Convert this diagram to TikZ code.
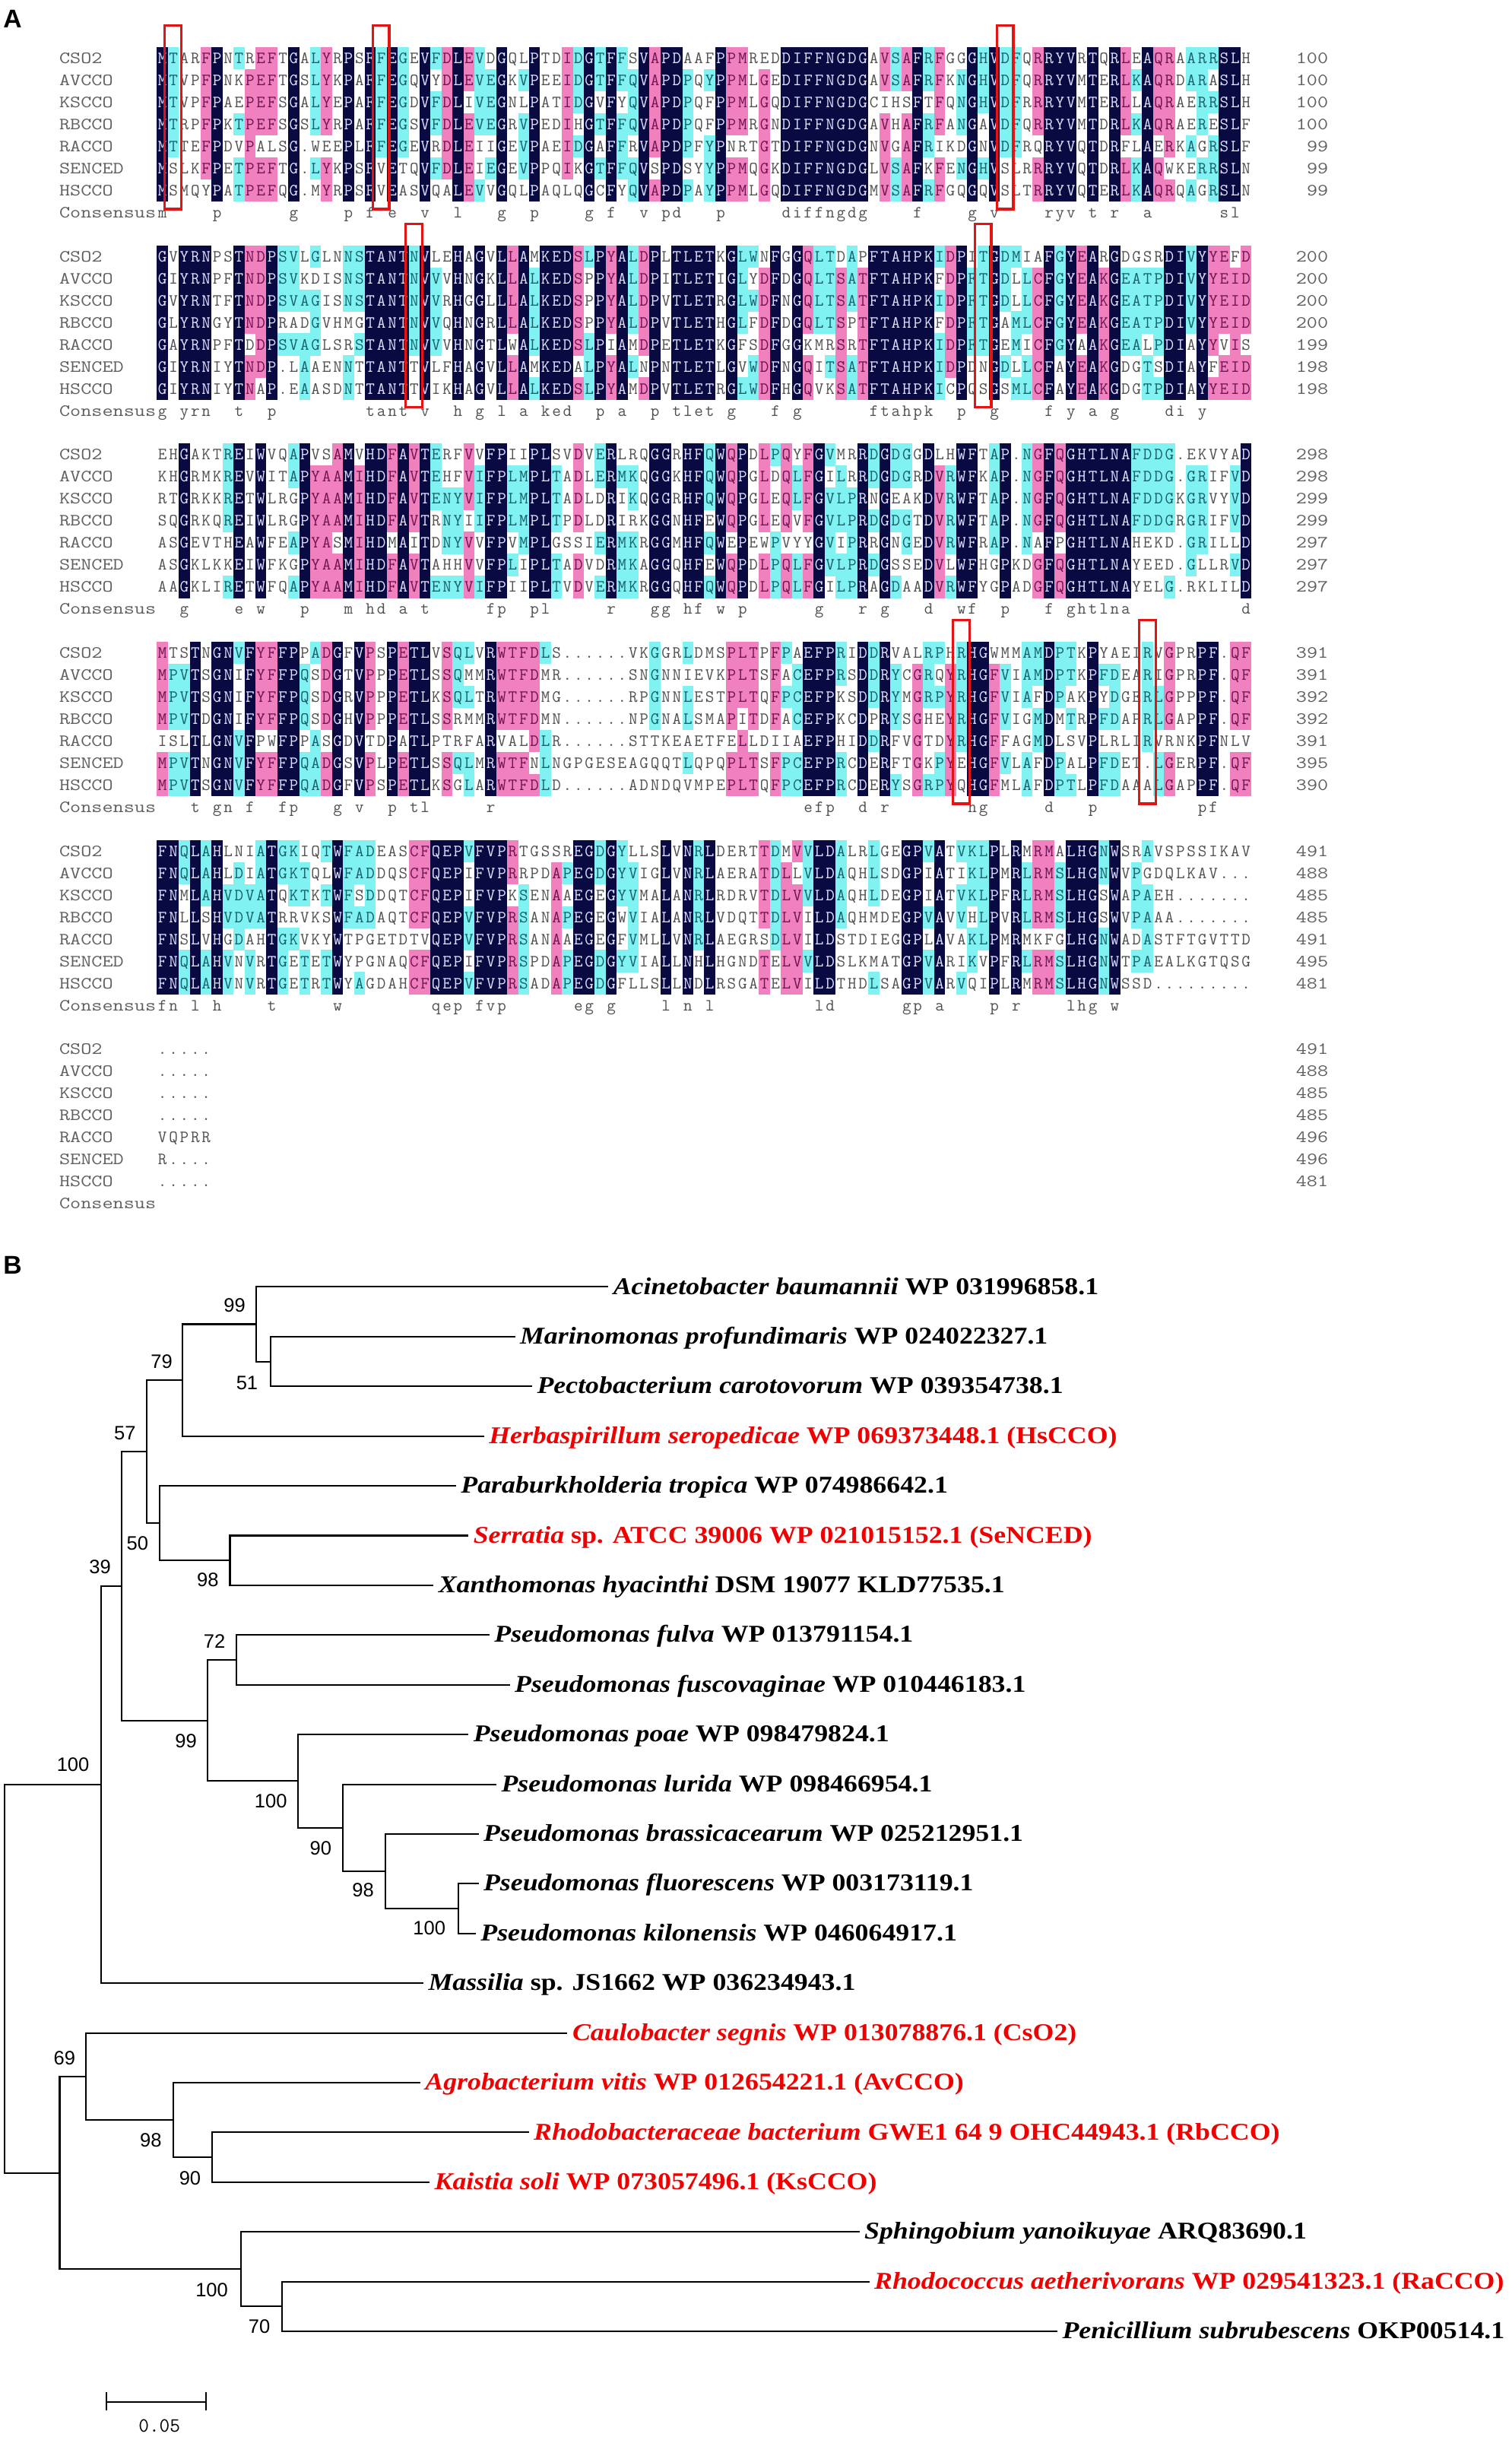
\documentclass[tikz,border=0pt]{standalone}
\usepackage{fontspec}
\setmainfont{Liberation Serif}
\newfontfamily\arialf{Liberation Sans}
\usepackage{graphicx}
\definecolor{navyc}{RGB}{10,10,66}
\definecolor{pinkc}{RGB}{240,128,190}
\definecolor{cyanc}{RGB}{128,242,242}
\definecolor{txw}{RGB}{80,80,80}
\definecolor{txn}{RGB}{225,225,255}
\definecolor{txp}{RGB}{110,20,80}
\definecolor{txc}{RGB}{25,95,105}
\definecolor{labg}{RGB}{95,95,95}
\definecolor{boxred}{RGB}{228,20,20}
\definecolor{tred}{RGB}{240,0,0}
\tikzset{
  res/.style={inner sep=0pt, text height=6.8pt, text depth=0pt, font=\ttfamily\fontsize{11}{12}\selectfont},
  rowst/.style={inner sep=0pt, anchor=base west, font=\ttfamily\fontsize{11}{12}\selectfont},
  lab/.style={res, anchor=west, text=labg},
  num/.style={res, anchor=east, text=labg},
  rbox/.style={draw=boxred, line width=1.6pt},
  br/.style={line width=1pt, line cap=rect},
  leaflab/.style={inner sep=0pt, anchor=base west, font=\fontsize{15.5}{17}\selectfont\bfseries},
  bs/.style={inner sep=0pt, font=\arialf\fontsize{12.5}{14}\selectfont},
  plab/.style={inner sep=0pt, anchor=base west, font=\arialf\bfseries\fontsize{16.5}{18}\selectfont}
}
\newlength\cw \setlength\cw{7.045pt}
\newcommand\alnc[2]{\ifcase#1\relax
  \makebox[\cw][c]{\color{txw}#2}%
  \or\rlap{\color{navyc}\rule[-3.8pt]{\cw}{14.4pt}}\makebox[\cw][c]{\color{txn}#2}%
  \or\rlap{\color{pinkc}\rule[-3.8pt]{\cw}{14.4pt}}\makebox[\cw][c]{\color{txp}#2}%
  \or\rlap{\color{cyanc}\rule[-3.8pt]{\cw}{14.4pt}}\makebox[\cw][c]{\color{txc}#2}%
  \fi}
\newcommand\alne{\hbox to \cw{}}
\newcommand\alnrow[2]{\node[rowst] (R#1) at (100.8,{37.5+#1*14.17+3.4}) {#2};}
\ExplSyntaxOn
\int_new:N \l__aln_cnt_int
\int_new:N \l__aln_lvl_int
\int_new:N \l__aln_len_int
\tl_new:N \l__aln_ch_tl
\tl_new:N \l__aln_cons_tl
\int_step_inline:nn {7}
  {
    \str_new:c { l__aln_row_#1_str }
    \tl_new:c { l__aln_c_#1_tl }
    \tl_new:c { l__aln_out_#1_tl }
  }
\cs_new_protected:Npn \alnblock #1#2#3#4#5#6#7#8
  {
    \str_set:cn { l__aln_row_1_str } {#2}
    \str_set:cn { l__aln_row_2_str } {#3}
    \str_set:cn { l__aln_row_3_str } {#4}
    \str_set:cn { l__aln_row_4_str } {#5}
    \str_set:cn { l__aln_row_5_str } {#6}
    \str_set:cn { l__aln_row_6_str } {#7}
    \str_set:cn { l__aln_row_7_str } {#8}
    \int_step_inline:nn {7} { \tl_clear:c { l__aln_out_##1_tl } }
    \tl_clear:N \l__aln_cons_tl
    \int_set:Nn \l__aln_len_int { \str_count:c { l__aln_row_1_str } }
    \int_step_variable:nnNn { 1 } { \l__aln_len_int } \l__aln_col_tl
      {
        \int_step_variable:nnNn { 1 } { 7 } \l__aln_r_tl
          {
            \tl_set:cx { l__aln_c_ \l__aln_r_tl _tl }
              { \str_item:cn { l__aln_row_ \l__aln_r_tl _str } { \l__aln_col_tl } }
          }
        \int_step_variable:nnNn { 1 } { 7 } \l__aln_r_tl
          {
            \tl_set:Nx \l__aln_ch_tl { \tl_use:c { l__aln_c_ \l__aln_r_tl _tl } }
            \int_zero:N \l__aln_cnt_int
            \int_step_variable:nnNn { 1 } { 7 } \l__aln_s_tl
              {
                \str_if_eq:eeT { \l__aln_ch_tl } { \tl_use:c { l__aln_c_ \l__aln_s_tl _tl } }
                  { \int_incr:N \l__aln_cnt_int }
              }
            \int_set:Nn \l__aln_lvl_int
              {
                \int_compare:nNnTF { \l__aln_cnt_int } = { 7 } { 1 }
                  {
                    \int_compare:nNnTF { \l__aln_cnt_int } = { 6 } { 2 }
                      { \int_compare:nNnTF { \l__aln_cnt_int } > { 3 } { 3 } { 0 } }
                  }
              }
            \str_if_eq:eeT { \l__aln_ch_tl } { . } { \int_zero:N \l__aln_lvl_int }
            \tl_if_empty:NF \l__aln_ch_tl
              {
                \tl_put_right:cx { l__aln_out_ \l__aln_r_tl _tl }
                  { \exp_not:N \alnc { \int_use:N \l__aln_lvl_int } { \l__aln_ch_tl } }
                \int_compare:nNnT { \l__aln_r_tl } = { 1 }
                  {
                    \int_compare:nNnTF { \l__aln_lvl_int } = { 1 }
                      {
                        \tl_put_right:Nx \l__aln_cons_tl
                          { \exp_not:N \alnc { 0 } { \str_lowercase:f { \l__aln_ch_tl } } }
                      }
                      { \tl_put_right:Nn \l__aln_cons_tl { \alne } }
                  }
              }
          }
      }
    \int_step_variable:nnNn { 1 } { 7 } \l__aln_r_tl
      {
        \tl_set:Nx \l_tmpa_tl
          {
            \exp_not:N \alnrow { \int_eval:n { 9 * (#1) + \l__aln_r_tl - 1 } }
              { \exp_not:v { l__aln_out_ \l__aln_r_tl _tl } }
          }
        \tl_use:N \l_tmpa_tl
      }
    \tl_set:Nx \l_tmpa_tl
      { \exp_not:N \alnrow { \int_eval:n { 9 * (#1) + 7 } } { \exp_not:V \l__aln_cons_tl } }
    \tl_use:N \l_tmpa_tl
  }
\ExplSyntaxOff
\newcommand\alnlabels[2]{%
  \foreach \nm [count=\i from 0] in {CSO2,AVCCO,KSCCO,RBCCO,RACCO,SENCED,HSCCO,Consensus}
    {\node[lab] (L#1-\i) at (38,{37.5+(9*#1+\i)*14.17}) {\scalebox{1.22}[1]{\nm}};}
  \foreach \v [count=\i from 0] in {#2}
    {\node[num] (N#1-\i) at (855,{37.5+(9*#1+\i)*14.17}) {\scalebox{1.22}[1]{\v}};}}
\newcommand\redbox[2]{%
  \draw[rbox] ({100.8+(#2-1)*7.045-1.8},{37.5+9*#1*14.17-21}) rectangle ({100.8+#2*7.045+1.8},{37.5+(9*#1+6)*14.17+12});}
\newcommand\leaf[4]{\node[leaflab,text=#3] (#1) at ([shift={(3.5,4.7)}]#2) {\scalebox{1.13}[1]{#4}};}
\begin{document}
\begin{tikzpicture}[x=1pt,y=-1pt]
\useasboundingbox (0,0) rectangle (973,1568);
\fill[white] (0,0) rectangle (973,1568);
\node[plab] (pA) at (2,18) {A};
\node[plab] (pB) at (2,819.5) {B};
% ---------------- alignment ----------------
\alnblock{0}
{MTARFPNTREFTGALYRPSFFEGEVFDLEVDGQLPTDIDGTFFSVAPDAAFPPMREDDIFFNGDGAVSAFRFGGGHVDFQRRYVRTQRLEAQRAARRSLH}
{MTVPFPNKPEFTGSLYKPAFFEGQVYDLEVEGKVPEEIDGTFFQVAPDPQYPPMLGEDIFFNGDGAVSAFRFKNGHVDFQRRYVMTERLKAQRDARASLH}
{MTVPFPAEPEFSGALYEPAFFEGDVFDLIVEGNLPATIDGVFYQVAPDPQFPPMLGQDIFFNGDGCIHSFTFQNGHVDFRRRYVMTERLLAQRAERRSLH}
{MTRPFPKTPEFSGSLYRPAFFEGSVFDLEVEGRVPEDIHGTFFQVAPDPQFPPMRGNDIFFNGDGAVHAFRFANGAVDFQRRYVMTDRLKAQRAERESLF}
{MTTEFPDVPALSG.WEEPLFFEGEVRDLEIIGEVPAEIDGAFFRVAPDPFYPNRTGTDIFFNGDGNVGAFRIKDGNVDFRQRYVQTDRFLAERKAGRSLF}
{MSLKFPETPEFTG.LYKPSFVETQVFDLEIEGEVPPQIKGTFFQVSPDSYYPPMQGKDIFFNGDGLVSAFKFENGHVSLRRRYVQTDRLKAQWKERRSLN}
{MSMQYPATPEFQG.MYRPSFVEASVQALEVVGQLPAQLQGCFYQVAPDPAYPPMLGQDIFFNGDGMVSAFRFGQGQVSLTRRYVQTERLKAQRQAGRSLN}
\alnblock{1}
{GVYRNPSTNDPSVLGLNNSTANTNVLEHAGVLLAMKEDSLPYALDPLTLETKGLWNFGGQLTDAPFTAHPKIDPITGDMIAFGYEARGDGSRDIVYYEFD}
{GIYRNPFTNDPSVKDISNSTANTNVVVHNGKLLALKEDSPPYALDPITLETIGLYDFDGQLTSATFTAHPKFDPFTGDLLCFGYEAKGEATPDIVYYEID}
{GVYRNTFTNDPSVAGISNSTANTNVVRHGGLLLALKEDSPPYALDPVTLETRGLWDFNGQLTSATFTAHPKIDPFTGDLLCFGYEAKGEATPDIVYYEID}
{GLYRNGYTNDPRADGVHMGTANTNVVQHNGRLLALKEDSPPYALDPVTLETHGLFDFDGQLTSPTFTAHPKFDPFTGAMLCFGYEAKGEATPDIVYYEID}
{GAYRNPFTDDPSVAGLSRSTANTNVVVHNGTLWALKEDSLPIAMDPETLETKGFSDFGGKMRSRTFTAHPKIDPFTGEMICFGYAAKGEALPDIAYYVIS}
{GIYRNIYTNDP.LAAENNTTANTTVLFHAGVLLAMKEDALPYALNPNTLETLGVWDFNGQITSATFTAHPKIDPDNGDLLCFAYEAKGDGTSDIAYFEID}
{GIYRNIYTNAP.EAASDNTTANTTVIKHAGVLLALKEDSLPYAMDPVTLETRGLWDFHGQVKSATFTAHPKICPQSGSMLCFAYEAKGDGTPDIAYYEID}
\alnblock{2}
{EHGAKTREIWVQAPVSAMVHDFAVTERFVVFPIIPLSVDVERLRQGGRHFQWQPDLPQYFGVMRRDGDGGDLHWFTAP.NGFQGHTLNAFDDG.EKVYAD}
{KHGRMKREVWITAPYAAMIHDFAVTEHFVIFPLMPLTADLERMKQGGKHFQWQPGLDQLFGILRRDGDGRDVRWFKAP.NGFQGHTLNAFDDG.GRIFVD}
{RTGRKKRETWLRGPYAAMIHDFAVTENYVIFPLMPLTADLDRIKQGGRHFQWQPGLEQLFGVLPRNGEAKDVRWFTAP.NGFQGHTLNAFDDGKGRVYVD}
{SQGRKQREIWLRGPYAAMIHDFAVTRNYIIFPLMPLTPDLDRIRKGGNHFEWQPGLEQVFGVLPRDGDGTDVRWFTAP.NGFQGHTLNAFDDGRGRIFVD}
{ASGEVTHEAWFEAPYASMIHDMAITDNYVVFPVMPLGSSIERMKRGGMHFQWEPEWPVYYGVIPRRGNGEDVRWFRAP.NAFPGHTLNAHEKD.GRILLD}
{ASGKLKKEIWFKGPYAAMIHDFAVTAHHVVFPLIPLTADVDRMKAGGQHFEWQPDLPQLFGVLPRDGSSEDVLWFHGPKDGFQGHTLNAYEED.GLLRVD}
{AAGKLIRETWFQAPYAAMIHDFAVTENYVIFPIIPLTVDVERMKRGGQHFQWQPDLPQLFGILPRAGDAADVRWFYGPADGFQGHTLNAYELG.RKLILD}
\alnblock{3}
{MTSTNGNVFYFFPPADGFVPSPETLVSQLVRWTFDLS......VKGGRLDMSPLTPFPAEFPRIDDRVALRPHRHGWMMAMDPTKPYAEIRVGPRPF.QF}
{MPVTSGNIFYFFPQSDGTVPPPETLSSQMMRWTFDMR......SNGNNIEVKPLTSFACEFPRSDDRYCGRQYRHGFVIAMDPTKPFDEARIGPRPF.QF}
{MPVTSGNIFYFFPQSDGRVPPPETLKSQLTRWTFDMG......RPGNNLESTPLTQFPCEFPKSDDRYMGRPYRHGFVIAFDPAKPYDGERLGPPPF.QF}
{MPVTDGNIFYFFPQSDGHVPPPETLSSRMMRWTFDMN......NPGNALSMAPITDFACEFPKCDPRYSGHEYRHGFVIGMDMTRPFDAPRLGAPPF.QF}
{ISLTLGNVFPWFPPASGDVTDPATLPTRFARVALDLR......STTKEAETFELLDIIAEFPHIDDRFVGTDYRHGFFAGMDLSVPLRLIRVRNKPFNLV}
{MPVTNGNVFYFFPQADGSVPLPETLSSQLMRWTFNLNGPGESEAGQQTLQPQPLTSFPCEFPRCDERFTGKPYEHGFVLAFDPALPFDET.LGERPF.QF}
{MPVTSGNVFYFFPQADGFVPSPETLKSGLARWTFDLD......ADNDQVMPEPLTQFPCEFPRCDERYSGRPYQHGFMLAFDPTLPFDAAALGAPPF.QF}
\alnblock{4}
{FNQLAHLNIATGKIQTWFADEASCFQEPVFVPRTGSSREGDGYLLSLVNRLDERTTDMVVLDALRLGEGPVATVKLPLRMRMALHGNWSRAVSPSSIKAV}
{FNQLAHLDIATGKTQLWFADDQSCFQEPIFVPRRPDAPEGDGYVIGLVNRLAERATDLLVLDAQHLSDGPIATIKLPMRLRMSLHGNWVPGDQLKAV...}
{FNMLAHVDVATQKTKTWFSDDQTCFQEPIFVPKSENAAEGEGYVMALANRLRDRVTDLVVLDAQHLDEGPIATVKLPFRLRMSLHGSWAPAEH.......}
{FNLLSHVDVATRRVKSWFADAQTCFQEPVFVPRSANAPEGEGWVIALANRLVDQTTDLVILDAQHMDEGPVAVVHLPVRLRMSLHGSWVPAAA.......}
{FNSLVHGDAHTGKVKYWTPGETDTVQEPVFVPRSANAAEGEGFVMLLVNRLAEGRSDLVILDSTDIEGGPLAVAKLPMRMKFGLHGNWADASTFTGVTTD}
{FNQLAHVNVRTGETETWYPGNAQCFQEPIFVPRSPDAPEGDGYVIALLNHLHGNDTELVVLDSLKMATGPVARIKVPFRLRMSLHGNWTPAEALKGTQSG}
{FNQLAHVNVRTGETRTWYAGDAHCFQEPVFVPRSADAPEGDGFLLSLLNDLRSGATELVILDTHDLSAGPVARVQIPLRMRMSLHGNWSSD.........}
\alnblock{5}{.....}{.....}{.....}{.....}{VQPRR}{R....}{.....}
\alnlabels{0}{100,100,100,100,99,99,99}
\alnlabels{1}{200,200,200,200,199,198,198}
\alnlabels{2}{298,298,299,299,297,297,297}
\alnlabels{3}{391,391,392,392,391,395,390}
\alnlabels{4}{491,488,485,485,491,495,481}
\alnlabels{5}{491,488,485,485,496,496,481}
\redbox{0}{2}\redbox{0}{21}\redbox{0}{78}
\redbox{1}{24}\redbox{1}{76}
\redbox{3}{74}\redbox{3}{91}
% ---------------- tree ----------------
\coordinate (l1) at (391,828);
\coordinate (l2) at (331,860);
\coordinate (l3) at (342,892);
\coordinate (l4) at (311,924);
\coordinate (l5) at (293,956);
\coordinate (l6) at (301,988);
\coordinate (l7) at (278.5,1020);
\coordinate (l8) at (314.5,1052);
\coordinate (l9) at (327.6,1084);
\coordinate (l10) at (301,1116);
\coordinate (l11) at (319,1148);
\coordinate (l12) at (307.5,1180);
\coordinate (l13) at (307.5,1212);
\coordinate (l14) at (305.7,1244);
\coordinate (l15) at (272,1276);
\coordinate (l16) at (364.7,1308);
\coordinate (l17) at (270,1340);
\coordinate (l18) at (339.8,1372);
\coordinate (l19) at (276,1404);
\coordinate (l20) at (552.6,1436);
\coordinate (l21) at (559,1468);
\coordinate (l22) at (680,1500);
\coordinate (n51) at (174,876);
\coordinate (n99a) at (165,852);
\coordinate (n79) at (117.5,888);
\coordinate (n98a) at (148,1004);
\coordinate (n50) at (102.7,980);
\coordinate (n57) at (94.6,934);
\coordinate (n72) at (152,1068);
\coordinate (n100c) at (295,1228);
\coordinate (n98b) at (248,1204);
\coordinate (n90a) at (220.6,1176);
\coordinate (n100b) at (191.8,1146);
\coordinate (n99b) at (133.7,1107);
\coordinate (n39) at (78.2,1020.5);
\coordinate (n100a) at (65,1148);
\coordinate (n90b) at (136.7,1388);
\coordinate (n98c) at (111.4,1364);
\coordinate (n69) at (55.5,1336);
\coordinate (n70) at (181.3,1484);
\coordinate (n100d) at (155,1460);
\coordinate (nb) at (38.4,1398);
\coordinate (root) at (3,1273);
\foreach \p/\c in {n51/l2,n51/l3,n99a/l1,n99a/n51,n79/n99a,n79/l4,n98a/l6,n98a/l7,
  n50/l5,n50/n98a,n57/n79,n57/n50,n72/l8,n72/l9,n100c/l13,n100c/l14,n98b/l12,n98b/n100c,
  n90a/l11,n90a/n98b,n100b/l10,n100b/n90a,n99b/n72,n99b/n100b,n39/n57,n39/n99b,
  n100a/n39,n100a/l15,n90b/l18,n90b/l19,n98c/l17,n98c/n90b,n69/l16,n69/n98c,
  n70/l21,n70/l22,n100d/l20,n100d/n70,nb/n69,nb/n100d,root/n100a,root/nb}
  {\draw[br] (\p) |- (\c);}
\leaf{t1}{l1}{black}{\textit{Acinetobacter baumannii} WP 031996858.1}
\leaf{t2}{l2}{black}{\textit{Marinomonas profundimaris} WP 024022327.1}
\leaf{t3}{l3}{black}{\textit{Pectobacterium carotovorum} WP 039354738.1}
\leaf{t4}{l4}{tred}{\textit{Herbaspirillum seropedicae} WP 069373448.1 (HsCCO)}
\leaf{t5}{l5}{black}{\textit{Paraburkholderia tropica} WP 074986642.1}
\leaf{t6}{l6}{tred}{\textit{Serratia} sp. ATCC 39006 WP 021015152.1 (SeNCED)}
\leaf{t7}{l7}{black}{\textit{Xanthomonas hyacinthi} DSM 19077 KLD77535.1}
\leaf{t8}{l8}{black}{\textit{Pseudomonas fulva} WP 013791154.1}
\leaf{t9}{l9}{black}{\textit{Pseudomonas fuscovaginae} WP 010446183.1}
\leaf{t10}{l10}{black}{\textit{Pseudomonas poae} WP 098479824.1}
\leaf{t11}{l11}{black}{\textit{Pseudomonas lurida} WP 098466954.1}
\leaf{t12}{l12}{black}{\textit{Pseudomonas brassicacearum} WP 025212951.1}
\leaf{t13}{l13}{black}{\textit{Pseudomonas fluorescens} WP 003173119.1}
\leaf{t14}{l14}{black}{\textit{Pseudomonas kilonensis} WP 046064917.1}
\leaf{t15}{l15}{black}{\textit{Massilia} sp. JS1662 WP 036234943.1}
\leaf{t16}{l16}{tred}{\textit{Caulobacter segnis} WP 013078876.1 (CsO2)}
\leaf{t17}{l17}{tred}{\textit{Agrobacterium vitis} WP 012654221.1 (AvCCO)}
\leaf{t18}{l18}{tred}{\textit{Rhodobacteraceae bacterium} GWE1 64 9 OHC44943.1 (RbCCO)}
\leaf{t19}{l19}{tred}{\textit{Kaistia soli} WP 073057496.1 (KsCCO)}
\leaf{t20}{l20}{black}{\textit{Sphingobium yanoikuyae} ARQ83690.1}
\leaf{t21}{l21}{tred}{\textit{Rhodococcus aetherivorans} WP 029541323.1 (RaCCO)}
\leaf{t22}{l22}{black}{\textit{Penicillium subrubescens} OKP00514.1}
\foreach \nm/\x/\y/\t in {b1/151/840/99,b2/159/890/51,b3/104/876/79,b4/80.4/922/57,b5/88.5/993/50,
  b6/133.7/1016.6/98,b7/64.4/1008/39,b8/138/1056/72,b9/119.7/1120/99,b10/174.3/1158.6/100,
  b11/206.4/1189/90,b12/233.7/1216.3/98,b13/276.3/1240.7/100,b14/47/1135.5/100,b15/41.5/1324/69,
  b16/97/1377/98,b17/122.3/1401.4/90,b18/136.3/1473.4/100,b19/166.9/1497/70}
  {\node[bs] (\nm) at (\x,\y) {\t};}
% scale bar
\coordinate (sb1) at (68.6,1545.3);
\coordinate (sb2) at (132.4,1545.3);
\draw[br] (sb1) -- (sb2);
\draw[br] ([yshift=-5.3pt]sb1) -- ([yshift=5.8pt]sb1);
\draw[br] ([yshift=-5.3pt]sb2) -- ([yshift=5.8pt]sb2);
\node[inner sep=0pt, font=\ttfamily\fontsize{13}{14}\selectfont] (sbl) at (102.6,1561) {0.05};
\end{tikzpicture}
\end{document}
